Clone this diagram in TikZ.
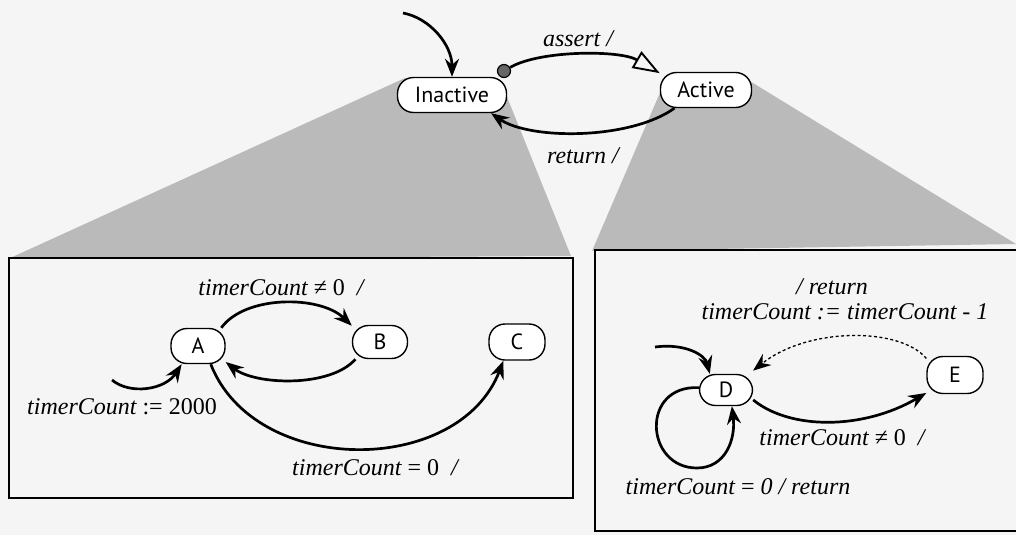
\documentclass[tikz,border=0pt]{standalone}
\usepackage{fontspec}
\setmainfont{Liberation Serif}
\newfontfamily\statefont{PT Sans}
\usetikzlibrary{arrows.meta}

\begin{document}
\begin{tikzpicture}[x=1pt,y=-1pt,
  state/.style={draw, line width=1.4pt, rounded corners=16pt, fill=white,
    font=\statefont\fontsize{22}{24}\selectfont, inner sep=0pt, minimum height=35pt},
  lbl/.style={font=\itshape\fontsize{24}{27}\selectfont, inner sep=0pt},
  tip/.style={-{Stealth[length=18pt,width=14pt,inset=6pt]}},
  trans/.style={line width=2.7pt, tip},
  guard/.style={line width=1.3pt, dash pattern=on 3pt off 2.5pt, tip},
  fan/.style={fill=black!27, draw=none},
  frame/.style={draw, line width=1.8pt}]

\useasboundingbox (0,0) rectangle (1016,535);
\fill[black!4] (0,0) rectangle (1016,535);

% shaded fans opening from each top-level state onto its refinement
\fill[fan] (8,259) -- (405,78) -- (505,92) -- (571,256) -- cycle;
\fill[fan] (592,251) -- (662,88) -- (748,80) -- (1016,244) -- cycle;

% refinement frames
\draw[frame] (9,258) rectangle (573,498);
\draw[frame] (595,250) rectangle (1040,531);

% top level
\node[state, minimum width=109pt] (inactive) at (452,95) {Inactive};
\node[state, minimum width=91pt] (active) at (706,90) {Active};
\node[circle, draw, line width=1.2pt, fill=black!60, minimum size=13pt, inner sep=0pt] (hist) at (504,71) {};
\coordinate (topinit) at (403,13);

\draw[trans] (topinit) .. controls (430,18) and (452,45) .. (inactive.north);
\draw[line width=2.7pt, -{Triangle[open, length=27pt, width=19pt, line width=1.9pt]}]
  (hist) .. controls (540,50) and (620,50) .. (active.160);
\draw[trans] (active.-150) .. controls (630,140) and (530,140) .. (inactive.-25);
\node[lbl] (lassert) at (578,39) {assert /};
\node[lbl] (lreturn) at (583,156) {return /};

% refinement of Inactive
\node[state, minimum width=54pt] (A) at (198,346) {A};
\node[state, minimum width=55pt, minimum height=33pt] (B) at (380,342) {B};
\node[state, minimum width=56pt, minimum height=36pt] (C) at (517,342) {C};
\coordinate (ainit) at (112,380);

\draw[trans] (ainit) .. controls (130,395) and (165,390) .. (A.-132);
\draw[trans] (A.38) .. controls (245,295) and (320,295) .. (B.150);
\draw[trans] (B.-145) .. controls (330,388) and (255,385) .. (A.-30);
\draw[trans] (A.-55) .. controls (255,477) and (459,477) .. (C.-126);

\node[lbl] (lab) at (281,288) {timerCount {\upshape ≠ 0} \ /};
\node[lbl] (lainit) at (122,407) {timerCount {\upshape := 2000}};
\node[lbl] (lac) at (375,468) {timerCount {\upshape = 0} \ /};

% refinement of Active
\node[state, minimum width=53pt, minimum height=31pt] (D) at (726,390) {D};
\node[state, minimum width=56pt, minimum height=37pt] (E) at (955,375) {E};
\coordinate (dinit) at (655,347);
\coordinate (loopbot) at (697,468);

\draw[trans] (dinit) .. controls (685,343) and (705,355) .. (D.135);
\draw[line width=2.7pt] (D.175) .. controls (640,385) and (645,468) .. (loopbot);
\draw[trans] (loopbot) .. controls (725,468) and (736,440) .. (D.-70);
\draw[trans] (D.-20) .. controls (790,430) and (863,430) .. (E.-148);
\draw[guard, shorten >=5pt] (E.150) .. controls (900,327) and (808,327) .. (D.35);

\node[lbl] (lret) at (832,287) {/ return};
\node[lbl] (ldec) at (845,312) {timerCount := timerCount - 1};
\node[lbl] (lde) at (842,438) {timerCount {\upshape ≠ 0} \ /};
\node[lbl] (ldd) at (738,487) {timerCount {\upshape =} 0 / return};
\end{tikzpicture}
\end{document}
